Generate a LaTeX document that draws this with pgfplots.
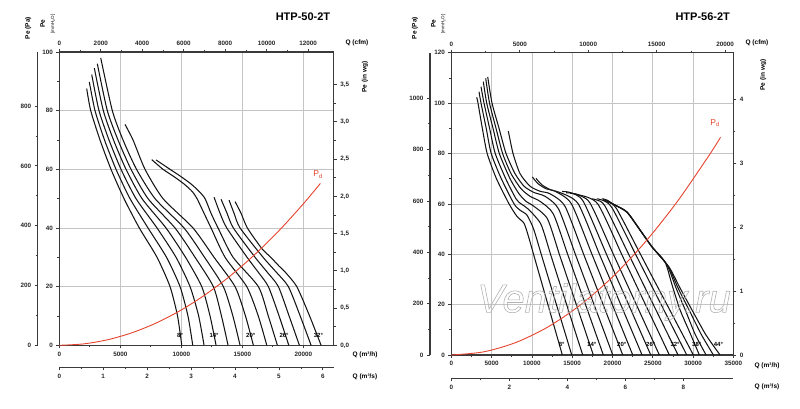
\documentclass[border=0pt]{standalone}
\usepackage{pgfplots}
\pgfplotsset{compat=1.18}
\usepackage{fontspec}
\setmainfont{Liberation Sans}
\definecolor{pdred}{HTML}{E5432D}
\definecolor{gridc}{HTML}{C4C4C4}
\definecolor{framec}{HTML}{3A3A3A}
\pgfplotsset{
  base/.style={
    scale only axis,
    axis line style={-,framec,line width=1.1pt},
    tick style={framec,line width=0.7pt},
    major tick length=3pt,
    minor tick length=2pt,
    tick align=outside,
    ticklabel style={font=\bfseries\fontsize{6.3}{7}\selectfont, text=black!85},
    /pgf/number format/assume math mode=true,
    /pgf/number format/1000 sep={},
    scaled ticks=false,
  },
  curve/.style={black!92, line width=1.05pt, smooth, tension=0.4},
  pd/.style={pdred, line width=0.9pt, smooth},
}
\tikzset{lab/.style={font=\bfseries\fontsize{6.5}{7}\selectfont},
  ang/.style={font=\bfseries\fontsize{6}{7}\selectfont}}
\begin{document}
\begin{tikzpicture}[x=1pt,y=1pt]
\path[use as bounding box] (0,0) rectangle (800,408);

% ================= LEFT: HTP-50-2T =================
\begin{axis}[base, at={(59.3pt,62.7pt)}, width=274.5pt, height=293.3pt,
  xmin=0, xmax=22500, ymin=0, ymax=100,
  xtick={0,5000,10000,15000,20000}, ytick={0,20,40,60,80,100},
  minor x tick num=1, minor y tick num=1,
  xtick pos=bottom, ytick pos=left,
  grid=major, grid style={gridc,line width=0.7pt}]
\addplot[curve] coordinates {(2247,87.5) (2575,80) (3337,70) (4239,60) (5305,50) (6560,40) (8011,30) (9077,20) (9692,10) (10037,0)};
\addplot[curve] coordinates {(2460,89.8) (2927,80) (3706,70) (4649,60) (5797,50) (7273,40) (8790,30) (9897,20) (10545,10) (10939,0)};
\addplot[curve] coordinates {(2657,92.3) (3255,80) (4075,70) (5059,60) (6289,50) (8011,40) (9569,30) (10717,20) (11423,10) (11865,0)};
\addplot[curve] coordinates {(2870,94.5) (3608,80) (4444,70) (5469,60) (6781,50) (8749,40) (10348,30) (11677,20) (12357,10) (12849,0)};
\addplot[curve] coordinates {(3116,96) (3936,80) (4813,70) (5879,60) (7273,50) (9487,40) (11127,30) (12628,20) (13292,10) (13833,0)};
\addplot[curve] coordinates {(3395,98) (4346,80) (5223,70) (6330,60) (7847,50) (10225,40) (11906,30) (13448,20) (14227,10) (14817,0)};
\addplot[curve] coordinates {(5387,75.3) (6043,70) (7027,60) (8503,50) (10963,40) (12685,30) (14407,20) (15260,10) (15908,0)};
\addplot[curve] coordinates {(7577,63.3) (8503,60) (9405,57.5) (10225,55) (10881,52.5) (11291,50) (11865,45) (12439,40) (13587,30) (15367,20) (16310,10) (17007,0)};
\addplot[curve] coordinates {(7929,63.2) (9077,60) (9979,57.5) (10799,55) (11455,52.5) (11947,50) (12439,45) (13013,40) (14243,30) (16318,20) (17130,10) (17876,0)};
\addplot[curve] coordinates {(12685,50.5) (13177,45) (13727,40) (15391,30) (16293,25) (17138,20) (18015,10) (18811,0)};
\addplot[curve] coordinates {(13259,49.8) (13751,45) (14268,40) (16047,30) (17031,25) (17958,20) (18835,10) (19680,0)};
\addplot[curve] coordinates {(13915,49.5) (14325,45) (14817,40) (16703,30) (17769,25) (18778,20) (19746,10) (20639,0)};
\addplot[curve] coordinates {(14407,49) (14899,45) (15416,40) (16597,33) (17335,30) (18015,27) (18507,25) (19467,20) (20516,10) (21459,0)};
\addplot[pd] coordinates {(0,0) (2000,0.48) (4000,1.93) (6000,4.34) (8000,7.71) (10000,12.05) (12000,17.36) (14000,23.63) (16000,30.86) (18000,39.05) (20000,48.22) (21400,55.2)};
\node[ang] at (axis cs:9897,3.5) {8°};
\node[ang] at (axis cs:12685,3.5) {14°};
\node[ang] at (axis cs:15695,3.5) {20°};
\node[ang] at (axis cs:18425,3.5) {26°};
\node[ang] at (axis cs:21238,3.5) {32°};
\node[text=pdred, font=\fontsize{8.5}{9}\selectfont] at (axis cs:21213,58.2) {P\textsubscript{d}};
\end{axis}
% cfm
\begin{axis}[base, at={(59.3pt,62.7pt)}, width=274.5pt, height=293.3pt,
  xmin=0, xmax=13243, ymin=0, ymax=1, axis x line*=top, hide y axis,
  xtick={0,2000,4000,6000,8000,10000,12000}, minor x tick num=1]
\end{axis}
% in wg
\begin{axis}[base, at={(59.3pt,62.7pt)}, width=274.5pt, height=293.3pt,
  xmin=0, xmax=1, ymin=0, ymax=3.937, axis y line*=right, hide x axis,
  ytick={0,0.5,1,1.5,2,2.5,3,3.5}, minor y tick num=1,
  yticklabel style={/pgf/number format/.cd,fixed,fixed zerofill,precision=1,use comma}]
\end{axis}
% Pa
\begin{axis}[base, at={(37.7pt,62.7pt)}, width=5pt, height=293.3pt,
  xmin=0, xmax=1, ymin=0, ymax=980.665, axis y line*=left, hide x axis,
  ytick={0,200,400,600,800}, minor y tick num=1]
\end{axis}
% m3/s
\begin{axis}[base, at={(59.3pt,40.7pt)}, width=274.5pt, height=5pt,
  xmin=0, xmax=6.25, ymin=0, ymax=1, axis x line*=bottom, hide y axis,
  xtick={0,1,2,3,4,5,6}, minor x tick num=1]
\end{axis}
\node[font=\bfseries\fontsize{11}{12}\selectfont] at (303,391) {HTP-50-2T};
\node[lab, rotate=90] at (28.3,380) {Pe (Pa)};
\node[lab, rotate=90] at (42.7,384) {Pe};
\node[font=\fontsize{4.5}{5}\selectfont, rotate=90] at (53,384) {[mmH\textsubscript{2}O]};
\node[lab] at (357,365.3) {Q (cfm)};
\node[lab, rotate=90] at (365,331) {Pe (in wg)};
\node[lab] at (365,52.7) {Q (m³/h)};
\node[lab] at (365,31.3) {Q (m³/s)};

% ================= RIGHT: HTP-56-2T =================
\begin{axis}[base, at={(451.3pt,53pt)}, width=282.1pt, height=302.3pt,
  xmin=0, xmax=35000, ymin=0, ymax=120,
  xtick={0,5000,10000,15000,20000,25000,30000,35000}, ytick={0,20,40,60,80,100,120},
  minor x tick num=1, minor y tick num=1,
  xtick pos=bottom, ytick pos=left,
  grid=major, grid style={gridc,line width=0.7pt}]
\addplot[curve] coordinates {(3152,102.3) (3313,100) (3850,90) (4450,80) (5600,70) (7161,60) (8153,55) (9022,52.3) (9581,47) (10201,40) (11095,30) (11988,20) (12882,10) (13775,0)};
\addplot[curve] coordinates {(3438,104.5) (3686,100) (4330,90) (4950,80) (6200,70) (7781,60) (8526,57.5) (9394,55.5) (10213,50) (11157,40) (12100,30) (13043,20) (13998,10) (14942,0)};
\addplot[curve] coordinates {(3686,106.5) (4058,100) (4750,90) (5450,80) (6750,70) (8029,62) (8650,60) (9518,58) (11107,52) (12311,40) (13304,30) (14309,20) (15302,10) (16307,0)};
\addplot[curve] coordinates {(3971,108.5) (4393,100) (5175,90) (5957,80) (7285,70) (8402,64) (9270,61) (10263,59) (11938,54) (13403,40) (14458,30) (15513,20) (16567,10) (17622,0)};
\addplot[curve] coordinates {(4269,109.8) (4741,100) (5547,90) (6366,80) (7409,72) (8650,66) (9767,63) (11008,61) (12658,56) (14433,40) (15537,30) (16654,20) (17759,10) (18863,0)};
\addplot[curve] coordinates {(4517,110.4) (5051,100) (5920,90) (6788,80) (7905,72) (9022,67) (10263,64.5) (11628,63) (13304,58) (15388,40) (16555,30) (17709,20) (18876,10) (20030,0)};
\addplot[curve] coordinates {(7074,88.9) (7657,80) (8526,72) (9767,67) (11008,65) (12249,64) (14110,59) (16418,40) (17635,30) (18838,20) (20055,10) (21271,0)};
\addplot[curve] coordinates {(10052,70.7) (10759,68) (11752,66) (12869,65) (14904,60) (17448,40) (18714,30) (19980,20) (21246,10) (22512,0)};
\addplot[curve] coordinates {(10511,70.1) (11256,67.5) (12373,65.5) (13490,64.5) (15748,60) (18379,40) (19707,30) (21023,20) (22350,10) (23666,0)};
\addplot[curve] coordinates {(13738,64.9) (14731,64.5) (16369,61) (19248,40) (20625,30) (22003,20) (23368,10) (24746,0)};
\addplot[curve] coordinates {(14234,64.4) (15227,64) (17175,60.5) (20104,40) (21531,30) (22959,20) (24386,10) (25813,0)};
\addplot[curve] coordinates {(14731,64.2) (15723,63.7) (18168,60) (21134,40) (22611,30) (24088,20) (25577,10) (27054,0)};
\addplot[curve] coordinates {(17424,62) (18081,61.5) (19087,59) (22003,40) (23529,30) (25068,20) (26595,10) (28133,0)};
\addplot[curve] coordinates {(18044,62) (18702,61.5) (19930,58.5) (22859,40) (24448,30) (26036,20) (27625,10) (29213,0)};
\addplot[curve] coordinates {(18665,62) (19322,61.5) (20514,58) (23467,40) (25105,30) (26756,20) (28394,10) (30032,0)};
\addplot[curve] coordinates {(18826,61.7) (20315,59.5) (21804,56.7) (23418,49.6) (24907,42.9) (26520,36.9) (27389,27.8) (28382,17.9) (29623,8.7) (30777,0)};
\addplot[curve] coordinates {(19074,61.5) (20315,59.5) (21804,56.7) (23418,49.6) (24907,42.9) (26768,35.7) (27885,26.6) (29126,17.1) (30243,8.3) (31608,0)};
\addplot[curve] coordinates {(19447,60.9) (20315,59.5) (21804,56.7) (23418,49.6) (24907,42.9) (26892,35.3) (28133,26.6) (29623,17.1) (30988,8.3) (32514,0)};
\addplot[curve] coordinates {(19819,60.3) (20315,59.5) (21804,56.7) (23418,49.6) (24907,42.9) (27017,34.9) (28382,26.6) (29995,17.1) (31608,7.9) (33345,0)};
\addplot[pd] coordinates {(0,0) (4000,1.24) (8000,4.96) (12000,11.16) (16000,19.83) (20000,30.99) (24000,44.63) (28000,60.74) (32000,79.34) (33400,86.43)};
\node[ang] at (axis cs:13701,4.2) {8°};
\node[ang] at (axis cs:17424,4.2) {14°};
\node[ang] at (axis cs:21146,4.2) {20°};
\node[ang] at (axis cs:24746,4.2) {26°};
\node[ang] at (axis cs:27762,4.2) {32°};
\node[ang] at (axis cs:30454,4.2) {38°};
\node[ang] at (axis cs:33135,4.2) {44°};
\node[text=pdred, font=\fontsize{8.5}{9}\selectfont] at (axis cs:32725,92) {P\textsubscript{d}};
\end{axis}
% cfm
\begin{axis}[base, at={(451.3pt,53pt)}, width=282.1pt, height=302.3pt,
  xmin=0, xmax=20600, ymin=0, ymax=1, axis x line*=top, hide y axis,
  xtick={0,5000,10000,15000,20000}, minor x tick num=1]
\end{axis}
% in wg
\begin{axis}[base, at={(451.3pt,53pt)}, width=282.1pt, height=302.3pt,
  xmin=0, xmax=1, ymin=0, ymax=4.7244, axis y line*=right, hide x axis,
  ytick={0,1,2,3,4}, minor y tick num=1]
\end{axis}
% Pa
\begin{axis}[base, at={(430pt,53pt)}, width=5pt, height=302.3pt,
  xmin=0, xmax=1, ymin=0, ymax=1176.8, axis y line*=left, hide x axis,
  ytick={0,200,400,600,800,1000}, minor y tick num=1]
\end{axis}
% m3/s
\begin{axis}[base, at={(451.3pt,29.7pt)}, width=282.1pt, height=5pt,
  xmin=0, xmax=9.7222, ymin=0, ymax=1, axis x line*=bottom, hide y axis,
  xtick={0,2,4,6,8}, minor x tick num=1]
\end{axis}
\node[font=\bfseries\fontsize{11}{12}\selectfont] at (702.7,391) {HTP-56-2T};
\node[lab, rotate=90] at (415,380) {Pe (Pa)};
\node[lab, rotate=90] at (433.3,384) {Pe};
\node[font=\fontsize{4.5}{5}\selectfont, rotate=90] at (443.3,384) {[mmH\textsubscript{2}O]};
\node[lab] at (757,364.7) {Q (cfm)};
\node[lab, rotate=90] at (763.3,333) {Pe (in wg)};
\node[lab] at (767,42.3) {Q (m³/h)};
\node[lab] at (767,21.3) {Q (m³/s)};
% watermark (outlined text)
\node[font=\itshape\fontsize{40}{40}\selectfont, text=black!30] at (604,106)
  {\special{pdf:literal direct 1 Tr 0.6 w}Ventilatorny.ru\special{pdf:literal direct 0 Tr}};
\end{tikzpicture}
\end{document}
